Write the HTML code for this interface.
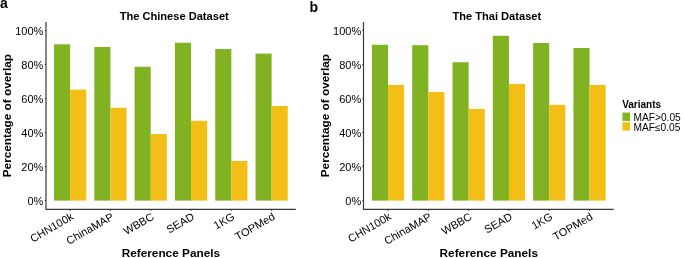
<!DOCTYPE html>
<html><head><meta charset="utf-8"><style>
html,body{margin:0;padding:0;background:#fff;width:685px;height:258px;overflow:hidden}
svg{display:block;will-change:transform}
text{font-family:"Liberation Sans", sans-serif;fill:#000}
</style></head><body>
<svg width="685" height="258" viewBox="0 0 685 258">
<rect x="54.03" y="44.28" width="16.10" height="156.32" fill="#80b222"/>
<rect x="70.13" y="89.69" width="16.10" height="110.91" fill="#f3be16"/>
<rect x="94.33" y="47.00" width="16.10" height="153.60" fill="#80b222"/>
<rect x="110.43" y="107.73" width="16.10" height="92.87" fill="#f3be16"/>
<rect x="134.63" y="66.73" width="16.10" height="133.87" fill="#80b222"/>
<rect x="150.73" y="134.09" width="16.10" height="66.51" fill="#f3be16"/>
<rect x="174.93" y="42.75" width="16.10" height="157.85" fill="#80b222"/>
<rect x="191.03" y="120.82" width="16.10" height="79.78" fill="#f3be16"/>
<rect x="215.23" y="49.04" width="16.10" height="151.56" fill="#80b222"/>
<rect x="231.33" y="160.97" width="16.10" height="39.63" fill="#f3be16"/>
<rect x="255.53" y="53.63" width="16.10" height="146.97" fill="#80b222"/>
<rect x="271.63" y="106.02" width="16.10" height="94.58" fill="#f3be16"/>
<path d="M46.00 22.0 V209.30 H295.81" fill="none" stroke="#3a3a3a" stroke-width="1.2" stroke-linecap="butt"/>
<line x1="44.80" y1="200.60" x2="46.00" y2="200.60" stroke="#333" stroke-width="1.0"/>
<text x="43.35" y="204.80" text-anchor="end" font-size="11">0%</text>
<line x1="44.80" y1="166.58" x2="46.00" y2="166.58" stroke="#333" stroke-width="1.0"/>
<text x="43.35" y="170.78" text-anchor="end" font-size="11">20%</text>
<line x1="44.80" y1="132.56" x2="46.00" y2="132.56" stroke="#333" stroke-width="1.0"/>
<text x="43.35" y="136.76" text-anchor="end" font-size="11">40%</text>
<line x1="44.80" y1="98.54" x2="46.00" y2="98.54" stroke="#333" stroke-width="1.0"/>
<text x="43.35" y="102.74" text-anchor="end" font-size="11">60%</text>
<line x1="44.80" y1="64.52" x2="46.00" y2="64.52" stroke="#333" stroke-width="1.0"/>
<text x="43.35" y="68.72" text-anchor="end" font-size="11">80%</text>
<line x1="44.80" y1="30.50" x2="46.00" y2="30.50" stroke="#333" stroke-width="1.0"/>
<text x="43.35" y="34.70" text-anchor="end" font-size="11">100%</text>
<line x1="70.13" y1="209.30" x2="70.13" y2="210.80" stroke="#333" stroke-width="1.1"/>
<text transform="translate(70.43,212.20) rotate(-30)" text-anchor="end" y="7.6" font-size="11">CHN100k</text>
<line x1="110.43" y1="209.30" x2="110.43" y2="210.80" stroke="#333" stroke-width="1.1"/>
<text transform="translate(110.73,212.20) rotate(-30)" text-anchor="end" y="7.6" font-size="11">ChinaMAP</text>
<line x1="150.73" y1="209.30" x2="150.73" y2="210.80" stroke="#333" stroke-width="1.1"/>
<text transform="translate(151.03,212.20) rotate(-30)" text-anchor="end" y="7.6" font-size="11">WBBC</text>
<line x1="191.03" y1="209.30" x2="191.03" y2="210.80" stroke="#333" stroke-width="1.1"/>
<text transform="translate(191.33,212.20) rotate(-30)" text-anchor="end" y="7.6" font-size="11">SEAD</text>
<line x1="231.33" y1="209.30" x2="231.33" y2="210.80" stroke="#333" stroke-width="1.1"/>
<text transform="translate(231.63,212.20) rotate(-30)" text-anchor="end" y="7.6" font-size="11">1KG</text>
<line x1="271.63" y1="209.30" x2="271.63" y2="210.80" stroke="#333" stroke-width="1.1"/>
<text transform="translate(271.93,212.20) rotate(-30)" text-anchor="end" y="7.6" font-size="11">TOPMed</text>
<text x="174.20" y="20.2" text-anchor="middle" font-size="11.1" font-weight="bold">The Chinese Dataset</text>
<text x="170.88" y="256.6" text-anchor="middle" font-size="11.8" font-weight="bold">Reference Panels</text>
<text transform="translate(11.35,115.65) rotate(-90)" text-anchor="middle" font-size="11.8" font-weight="bold">Percentage of overlap</text>
<text x="-0.10" y="7.70" font-size="14" font-weight="bold">a</text>
<rect x="371.93" y="44.79" width="16.10" height="155.81" fill="#80b222"/>
<rect x="388.03" y="84.93" width="16.10" height="115.67" fill="#f3be16"/>
<rect x="412.23" y="45.21" width="16.10" height="155.39" fill="#80b222"/>
<rect x="428.33" y="92.08" width="16.10" height="108.52" fill="#f3be16"/>
<rect x="452.53" y="62.22" width="16.10" height="138.38" fill="#80b222"/>
<rect x="468.63" y="108.92" width="16.10" height="91.68" fill="#f3be16"/>
<rect x="492.83" y="35.77" width="16.10" height="164.83" fill="#80b222"/>
<rect x="508.93" y="83.91" width="16.10" height="116.69" fill="#f3be16"/>
<rect x="533.13" y="43.00" width="16.10" height="157.60" fill="#80b222"/>
<rect x="549.23" y="104.83" width="16.10" height="95.77" fill="#f3be16"/>
<rect x="573.43" y="48.02" width="16.10" height="152.58" fill="#80b222"/>
<rect x="589.53" y="84.93" width="16.10" height="115.67" fill="#f3be16"/>
<path d="M363.50 22.0 V209.30 H613.71" fill="none" stroke="#3a3a3a" stroke-width="1.2" stroke-linecap="butt"/>
<line x1="362.30" y1="200.60" x2="363.50" y2="200.60" stroke="#333" stroke-width="1.0"/>
<text x="361.25" y="204.80" text-anchor="end" font-size="11">0%</text>
<line x1="362.30" y1="166.58" x2="363.50" y2="166.58" stroke="#333" stroke-width="1.0"/>
<text x="361.25" y="170.78" text-anchor="end" font-size="11">20%</text>
<line x1="362.30" y1="132.56" x2="363.50" y2="132.56" stroke="#333" stroke-width="1.0"/>
<text x="361.25" y="136.76" text-anchor="end" font-size="11">40%</text>
<line x1="362.30" y1="98.54" x2="363.50" y2="98.54" stroke="#333" stroke-width="1.0"/>
<text x="361.25" y="102.74" text-anchor="end" font-size="11">60%</text>
<line x1="362.30" y1="64.52" x2="363.50" y2="64.52" stroke="#333" stroke-width="1.0"/>
<text x="361.25" y="68.72" text-anchor="end" font-size="11">80%</text>
<line x1="362.30" y1="30.50" x2="363.50" y2="30.50" stroke="#333" stroke-width="1.0"/>
<text x="361.25" y="34.70" text-anchor="end" font-size="11">100%</text>
<line x1="388.03" y1="209.30" x2="388.03" y2="210.80" stroke="#333" stroke-width="1.1"/>
<text transform="translate(388.33,212.20) rotate(-30)" text-anchor="end" y="7.6" font-size="11">CHN100k</text>
<line x1="428.33" y1="209.30" x2="428.33" y2="210.80" stroke="#333" stroke-width="1.1"/>
<text transform="translate(428.63,212.20) rotate(-30)" text-anchor="end" y="7.6" font-size="11">ChinaMAP</text>
<line x1="468.63" y1="209.30" x2="468.63" y2="210.80" stroke="#333" stroke-width="1.1"/>
<text transform="translate(468.93,212.20) rotate(-30)" text-anchor="end" y="7.6" font-size="11">WBBC</text>
<line x1="508.93" y1="209.30" x2="508.93" y2="210.80" stroke="#333" stroke-width="1.1"/>
<text transform="translate(509.23,212.20) rotate(-30)" text-anchor="end" y="7.6" font-size="11">SEAD</text>
<line x1="549.23" y1="209.30" x2="549.23" y2="210.80" stroke="#333" stroke-width="1.1"/>
<text transform="translate(549.53,212.20) rotate(-30)" text-anchor="end" y="7.6" font-size="11">1KG</text>
<line x1="589.53" y1="209.30" x2="589.53" y2="210.80" stroke="#333" stroke-width="1.1"/>
<text transform="translate(589.83,212.20) rotate(-30)" text-anchor="end" y="7.6" font-size="11">TOPMed</text>
<text x="496.80" y="20.2" text-anchor="middle" font-size="11.1" font-weight="bold">The Thai Dataset</text>
<text x="488.78" y="256.6" text-anchor="middle" font-size="11.8" font-weight="bold">Reference Panels</text>
<text transform="translate(329.25,115.65) rotate(-90)" text-anchor="middle" font-size="11.8" font-weight="bold">Percentage of overlap</text>
<text x="309.40" y="11.70" font-size="14" font-weight="bold">b</text>
<text x="622.2" y="108.3" font-size="10" font-weight="bold">Variants</text>
<rect x="622.4" y="112.6" width="7.7" height="8.3" fill="#80b222"/>
<rect x="622.4" y="122.2" width="7.7" height="8.4" fill="#f3be16"/>
<text x="633.5" y="121.2" font-size="10.2">MAF&gt;0.05</text>
<text x="633.5" y="130.7" font-size="10.2">MAF&#8804;0.05</text>
</svg>
</body></html>
